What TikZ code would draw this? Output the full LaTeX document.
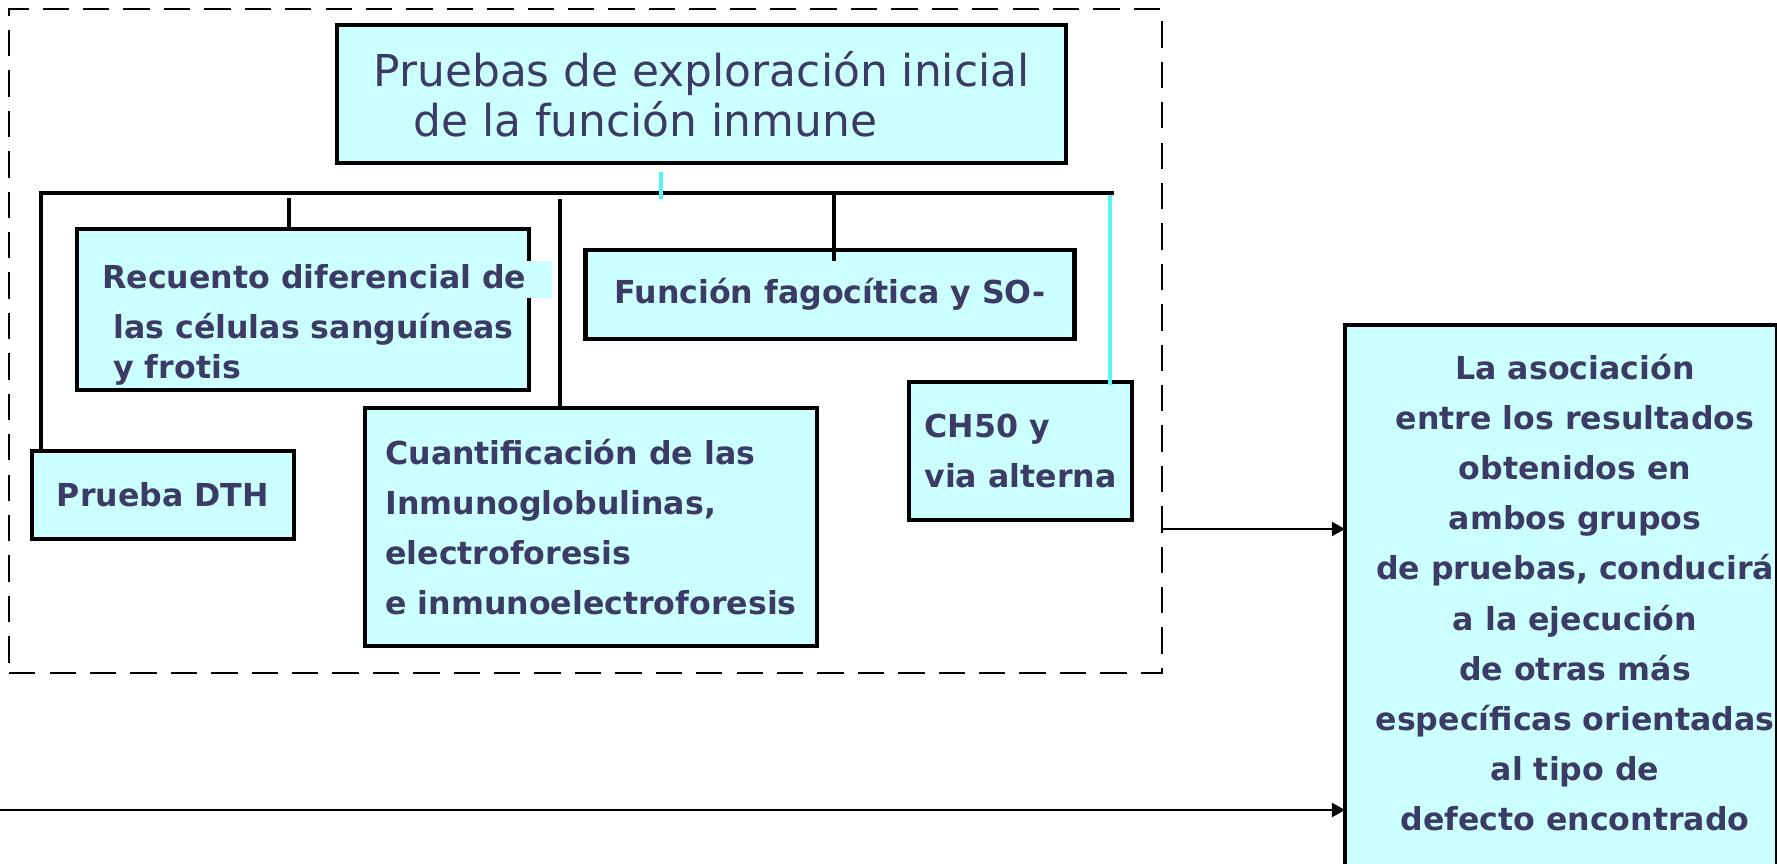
\documentclass[tikz,border=0pt]{standalone}
\usepackage{fontspec}
\setmainfont{DejaVu Sans}
\usetikzlibrary{arrows.meta,calc}
\definecolor{boxfill}{HTML}{CCFFFF}
\definecolor{txtnavy}{HTML}{3B3B66}
\definecolor{linkcyan}{HTML}{55F5F5}

\begin{document}
\begin{tikzpicture}[x=0.02cm, y=-0.02cm]

\tikzstyle{testbox}=[draw=black, line width=2.6pt, fill=boxfill, text=txtnavy,
inner sep=0pt, font=\fontsize{18}{28.5}\selectfont\bfseries]
\tikzstyle{testtext}=[inner sep=0pt, text=txtnavy, font=\fontsize{18}{28.5}\selectfont\bfseries]
\tikzstyle{branch}=[line width=2.2pt]
\tikzstyle{cyanbranch}=[draw=linkcyan, line width=2.2pt]
\tikzstyle{feed}=[line width=1.4pt, -{Triangle[length=7.5pt,width=8pt]}]

\useasboundingbox (0,0) rectangle (1777,863);

% dashed frame round the first group of tests
\node[draw, dash pattern=on 15pt off 8pt, line width=1.5pt, inner sep=0pt,
minimum width=23.06cm, minimum height=13.28cm] (frame) at (585.5,341) {};

\node[testbox, font=\fontsize{25}{28.5}\selectfont, align=left,
minimum width=14.58cm, minimum height=2.76cm] (title) at (701.5,94)
{Pruebas de exploración inicial\\\hspace*{0.8cm}de la función inmune};

\node[testbox, minimum width=5.24cm, minimum height=1.76cm] (dth) at (163,495) {Prueba DTH};

\node[testbox, minimum width=9.04cm, minimum height=3.22cm] (rec) at (303,309.5) {};
\fill[boxfill] (527,261) rectangle (552,298);
\node[testtext, anchor=north west, align=left] (rectxt) at (102,264)
{Recuento diferencial de\\\hspace*{0.22cm}las células sanguíneas\\[-5.7pt]\hspace*{0.22cm}y frotis};

\node[testbox, minimum width=9.78cm, minimum height=1.78cm] (func) at (830,294.5) {Función fagocítica y SO-};

\node[testbox, align=left, minimum width=4.46cm, minimum height=2.76cm] (ch) at (1020.5,451)
{CH50 y\\via alterna};

\node[testbox, align=left, minimum width=9.04cm, minimum height=4.76cm] (cuant) at (591,527)
{Cuantificación de las\\Inmunoglobulinas,\\electroforesis\\e inmunoelectroforesis};

\node[testbox, minimum width=8.64cm, minimum height=11.5cm] (asoc) at (1561,612.5) {};
\node[testtext, anchor=north, align=center] (asoctxt) at (1575,354)
{La asociación\\entre los resultados\\obtenidos en\\ambos grupos\\de pruebas, conducirá\\a la ejecución\\de otras más\\específicas orientadas\\al tipo de\\defecto encontrado};

% tree
\coordinate (barL) at (41,193);
\coordinate (barR) at (1114,193);
\draw[branch] (barL |- dth.north) -- (barL) -- (barR);
\coordinate (t1) at (289,198);
\draw[branch] (t1) -- (t1 |- rec.north);
\coordinate (t2) at (560,199);
\draw[branch] (t2) -- (t2 |- cuant.north);
\coordinate (t3) at (834,195);
\draw[branch] (t3) -- ($(t3 |- func.north)+(0,13)$);
\coordinate (t0a) at (661,172);
\coordinate (t0b) at (661,199);
\draw[cyanbranch] (t0a) -- (t0b);
\coordinate (t4) at (1110,195);
\draw[cyanbranch] (t4) -- ($(t4 |- ch.north)+(0,5)$);

% arrows into the result box
\coordinate (in1) at (1345,529);
\draw[feed] (frame.east |- in1) -- (in1);
\coordinate (src) at (0,810);
\coordinate (in2) at (1345,810);
\draw[feed] (src) -- (in2);

\end{tikzpicture}
\end{document}
